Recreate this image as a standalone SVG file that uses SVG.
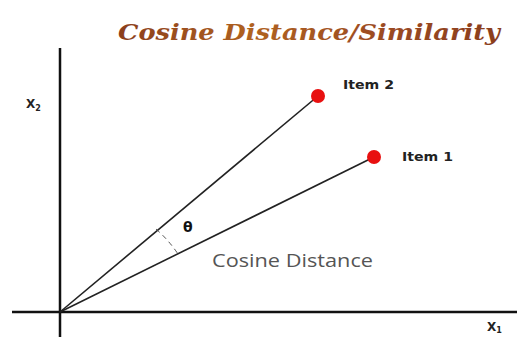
<svg xmlns="http://www.w3.org/2000/svg" width="517" height="337" viewBox="0 0 517 337">
<defs>
<linearGradient id="tg" x1="0" y1="0" x2="1" y2="0">
<stop offset="0" stop-color="#8a3e1c"/>
<stop offset="0.35" stop-color="#b0621f"/>
<stop offset="0.7" stop-color="#9b4a22"/>
<stop offset="1" stop-color="#8a3e1c"/>
</linearGradient>
</defs>
<style>
.axis{stroke:#111;stroke-width:2.5;fill:none}
.vec{stroke:#222;stroke-width:1.6;fill:none}
.arc{stroke:#555;stroke-width:1;fill:none;stroke-dasharray:5 4}
.lbl{font-family:"DejaVu Sans",sans-serif;font-weight:bold;font-size:11.5px;fill:#222}
.dot{fill:#e81010}
</style>
<rect width="517" height="337" fill="#fff"/>
<text x="118" y="40" font-family="'DejaVu Serif',serif" font-style="italic" font-weight="bold" font-size="23" fill="url(#tg)" textLength="382" lengthAdjust="spacingAndGlyphs">Cosine Distance/Similarity</text>
<g id="connectors">
<line class="axis" x1="60" y1="48" x2="60" y2="337"/>
<line class="axis" x1="12" y1="312" x2="517" y2="312"/>
<line class="vec" x1="60" y1="312" x2="318" y2="96"/>
<line class="vec" x1="60" y1="312" x2="374" y2="157"/>
<path class="arc" d="M 156 229 A 128 128 0 0 1 178 254"/>
</g>
<g id="item2">
<circle class="dot" cx="318" cy="96" r="7"/>
<text class="lbl" x="343" y="89" textLength="51" lengthAdjust="spacingAndGlyphs">Item 2</text>
</g>
<g id="item1">
<circle class="dot" cx="374" cy="157" r="7"/>
<text class="lbl" x="402" y="161" textLength="51" lengthAdjust="spacingAndGlyphs">Item 1</text>
</g>
<g id="theta">
<text x="183" y="232" font-family="'DejaVu Sans',sans-serif" font-weight="bold" font-size="14" fill="#111">θ</text>
</g>
<g id="cosdist">
<text x="212" y="267" font-family="'Open Sans','DejaVu Sans',sans-serif" font-size="19" fill="#555" textLength="161" lengthAdjust="spacingAndGlyphs">Cosine Distance</text>
</g>
<g id="x2">
<text x="26" y="108" font-family="'DejaVu Sans',sans-serif" font-weight="bold" font-size="12" fill="#222">X<tspan font-size="8" dy="3">2</tspan></text>
</g>
<g id="x1">
<text x="487" y="331" font-family="'DejaVu Sans',sans-serif" font-weight="bold" font-size="12" fill="#222">X<tspan font-size="8" dy="2">1</tspan></text>
</g>
</svg>
